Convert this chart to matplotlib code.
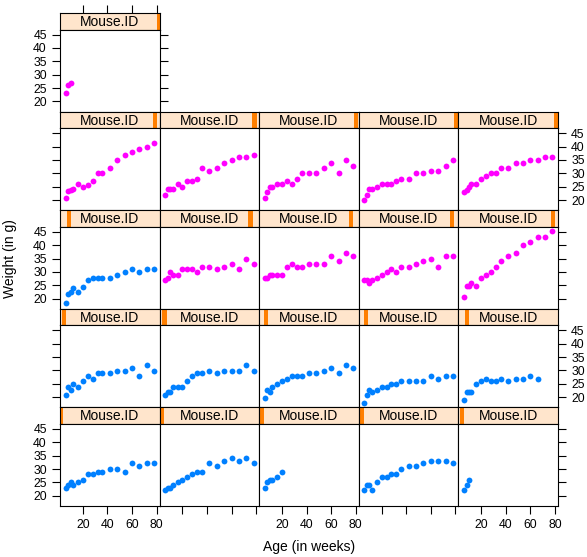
import matplotlib
matplotlib.use('Agg')
import matplotlib.pyplot as plt
from matplotlib.patches import Rectangle

plt.rcParams['font.family'] = ['Liberation Sans', 'DejaVu Sans']

# age grid (weeks) shared by the panels
ages = [6, 8, 10, 12, 16, 20, 24, 28, 32, 36, 42, 48, 54, 60, 66, 72, 78]

# weights (g) per panel, rows listed top to bottom, left to right
row1_weights = [
    [23, 26, 27],
]
row2_weights = [
    [20.9, 23.2, 23.9, 24.2, 26.0, 24.8, 25.7, 27.0, 30.0, 30.0, 32.1, 35.0, 36.9, 38.1, 39.2, 39.9, 41.2],
    [21.9, 24.1, 24.1, 24.1, 26.0, 24.8, 27.0, 27.0, 27.9, 31.9, 30.9, 31.9, 34.0, 35.0, 36.0, 36.0, 37.0],
    [20.9, 22.9, 24.8, 24.8, 26.0, 26.0, 27.0, 26.0, 27.9, 30.0, 30.0, 30.0, 31.9, 34.0, 30.0, 35.0, 32.9],
    [19.9, 21.9, 24.1, 24.1, 24.8, 26.0, 26.0, 26.0, 27.0, 27.9, 27.9, 30.0, 30.0, 30.9, 30.9, 32.9, 35.0],
    [22.9, 23.8, 24.8, 26.0, 26.0, 27.9, 28.9, 30.0, 30.0, 31.9, 31.9, 34.0, 34.0, 35.0, 35.0, 36.0, 36.0],
]
row3_weights = [
    [18.5, 21.7, 22.6, 24.0, 22.6, 24.5, 26.8, 27.8, 27.8, 27.8, 27.8, 28.7, 29.8, 30.9, 29.8, 30.9, 30.9],
    [26.8, 27.8, 29.8, 28.7, 28.7, 30.9, 30.9, 30.9, 29.8, 31.9, 31.9, 30.9, 31.9, 33.0, 30.9, 35.0, 33.0],
    [27.8, 27.8, 28.7, 28.7, 28.7, 28.7, 31.9, 33.0, 31.9, 31.9, 33.0, 33.0, 33.0, 36.0, 34.0, 37.0, 36.0],
    [26.8, 26.8, 25.8, 26.8, 27.8, 28.7, 29.8, 30.9, 29.8, 31.9, 31.9, 33.0, 34.0, 35.0, 31.9, 36.0, 36.0],
    [20.7, 24.8, 24.8, 25.8, 24.8, 27.8, 28.7, 29.8, 31.9, 34.0, 36.0, 37.0, 40.1, 41.1, 43.2, 43.2, 45.2],
]
row4_weights = [
    [20.8, 23.9, 22.7, 24.9, 23.9, 25.9, 27.9, 26.9, 28.9, 28.9, 28.9, 29.9, 29.9, 30.9, 27.9, 32.0, 29.9],
    [20.8, 21.8, 21.8, 23.9, 23.9, 23.9, 25.9, 27.9, 28.9, 28.9, 29.9, 28.9, 29.9, 29.9, 29.9, 32.0, 29.9],
    [19.8, 22.7, 21.8, 23.9, 24.9, 25.9, 26.9, 27.9, 27.9, 27.9, 28.9, 28.9, 29.9, 30.9, 28.9, 32.0, 30.9],
    [17.8, 20.8, 22.7, 21.8, 22.7, 23.9, 23.9, 24.9, 24.9, 25.9, 25.9, 25.9, 25.9, 27.9, 26.9, 27.9, 27.9],
    [18.8, 21.8, 21.8, 21.8, 24.9, 25.9, 26.9, 25.9, 25.9, 26.9, 25.9, 26.9, 26.9, 27.9, 26.9],
]
row5_weights = [
    [23.0, 24.0, 25.0, 24.0, 25.0, 26.0, 28.0, 28.0, 29.1, 29.1, 30.1, 30.1, 29.1, 32.1, 31.1, 32.1, 32.1],
    [22.0, 23.0, 23.0, 24.0, 25.0, 26.0, 27.0, 28.0, 29.1, 29.1, 32.1, 31.1, 33.1, 34.1, 33.1, 34.1, 32.1],
    [23.0, 25.0, 26.0, 26.0, 27.0, 29.1],
    [22.0, 24.0, 24.0, 22.0, 25.0, 27.0, 27.0, 28.0, 28.0, 30.1, 31.1, 31.1, 32.1, 33.1, 33.1, 33.1, 32.1],
    [22.0, 24.0, 26.0],
]

# group of each mouse (drives the point colour)
row1_group = ['F']
row2_group = ['F', 'F', 'F', 'F', 'F']
row3_group = ['M', 'F', 'F', 'F', 'F']
row4_group = ['M', 'M', 'M', 'M', 'M']
row5_group = ['M', 'M', 'M', 'M', 'M']

# where the level marker sits in each strip (fraction of strip width)
row1_level = [0.99]
row2_level = [0.951, 0.953, 0.968, 0.972, 0.978]
row3_level = [0.089, 0.913, 0.923, 0.936, 0.949]
row4_level = [0.042, 0.049, 0.065, 0.075, 0.088]
row5_level = [0.010, 0.022, 0.031, 0.030, 0.035]

rows_w = [row1_weights, row2_weights, row3_weights, row4_weights, row5_weights]
rows_g = [row1_group, row2_group, row3_group, row4_group, row5_group]
rows_l = [row1_level, row2_level, row3_level, row4_level, row5_level]

group_col = {'M': '#0080ff', 'F': '#ff00ff'}

W, H = 587, 557
fig = plt.figure(figsize=(W / 100, H / 100), dpi=100)

col_left = [60 + 99.6 * i for i in range(5)]
col_w = 99.6
row_top = [13 + 98.6 * i for i in range(5)]
strip_h = 16.5
panel_h = 82.1

xlim = (1.4, 82.5)
ylim = (16.2, 46.9)
xt = [20, 40, 60, 80]
yt = [20, 25, 30, 35, 40, 45]
lw = 0.8


def box(x, y, w, h):
    return [x / W, 1 - (y + h) / H, w / W, h / H]


for r in range(5):
    for c in range(len(rows_w[r])):
        x0 = col_left[c]
        y0 = row_top[r]
        # strip
        sa = fig.add_axes(box(x0, y0, col_w, strip_h))
        sa.set_facecolor('#ffe5cc')
        sa.set_xlim(xlim)
        sa.set_ylim(0, 1)
        bw = 0.042
        sa.add_patch(Rectangle((rows_l[r][c] - bw / 2, 0), bw, 1, transform=sa.transAxes,
                               facecolor='#ff7f00', edgecolor='none'))
        sa.text(0.5, 0.45, 'Mouse.ID', transform=sa.transAxes, ha='center', va='center',
                fontsize=10)
        for s in sa.spines.values():
            s.set_linewidth(lw)
        sa.set_yticks([])
        if r == 0 and c == 0:
            sa.set_xticks(xt)
            sa.tick_params(axis='x', direction='out', length=5.5, width=lw,
                           bottom=False, top=True, labelbottom=False, labeltop=False)
        else:
            sa.set_xticks([])

        # panel
        ax = fig.add_axes(box(x0, y0 + strip_h, col_w, panel_h))
        n = len(rows_w[r][c])
        ax.plot(ages[:n], rows_w[r][c], 'o', ms=4.2, mec='none',
                color=group_col[rows_g[r][c]])
        ax.set_xlim(xlim)
        ax.set_ylim(ylim)
        for s in ax.spines.values():
            s.set_linewidth(lw)
        ax.set_xticks(xt)
        ax.set_yticks(yt)
        left = c == 0
        right = (c == 4) or (r == 0)
        bottom = r == 4
        ax.tick_params(axis='y', direction='out', length=5.5, width=lw, labelsize=8.8, pad=4,
                       left=left, right=right,
                       labelleft=left and r in (0, 2, 4),
                       labelright=right and r in (1, 3))
        ax.tick_params(axis='x', direction='out', length=5.5, width=lw, labelsize=8.8, pad=4,
                       bottom=bottom, top=False,
                       labelbottom=bottom and c in (0, 2, 4), labeltop=False)

fig.text(309 / W, 1 - 547 / H, 'Age (in weeks)', ha='center', va='center', fontsize=10)
fig.text(10.5 / W, 1 - 259 / H, 'Weight (in g)', ha='center', va='center', fontsize=10,
         rotation=90)

fig.savefig('out.png', dpi=100)
